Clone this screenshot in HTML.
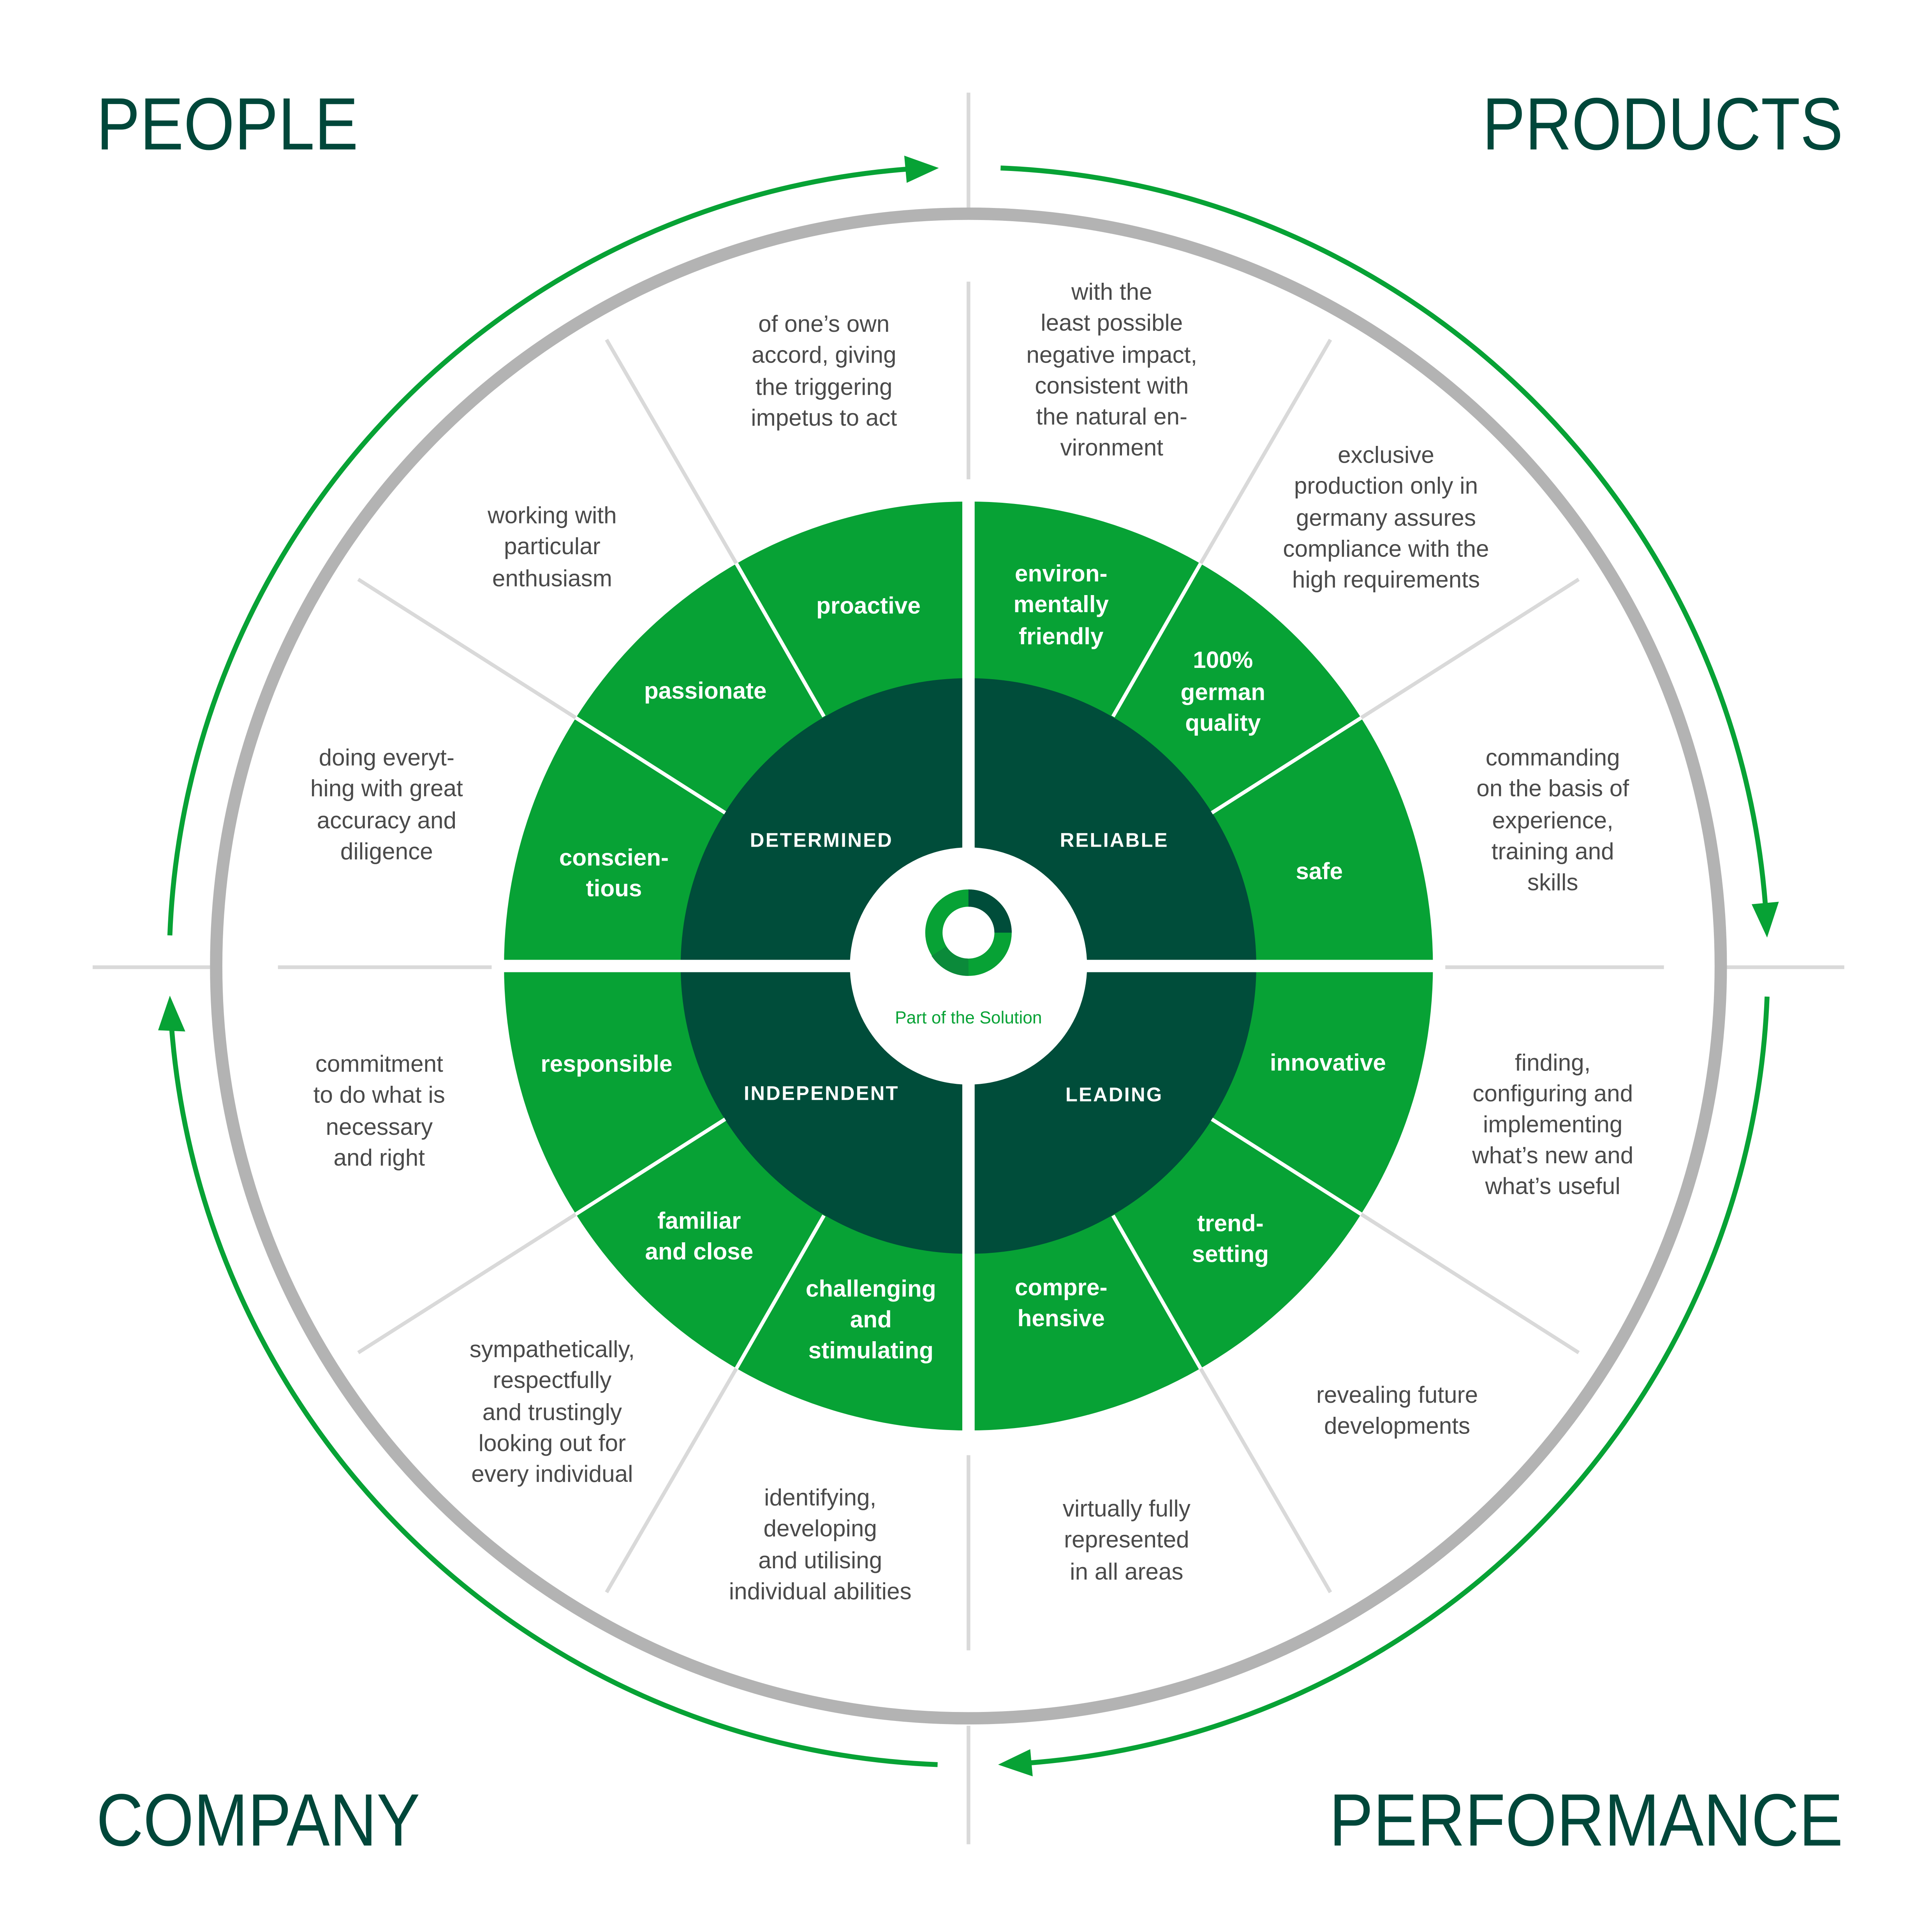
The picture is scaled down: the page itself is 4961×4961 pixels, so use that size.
<!DOCTYPE html>
<html><head><meta charset="utf-8"><style>
html,body{margin:0;padding:0;background:#fff;}
svg{display:block;}
.b{font-family:"Liberation Sans",sans-serif;font-size:19px;fill:#4a4a4a;text-anchor:middle;dominant-baseline:central;}
.w{font-family:"Liberation Sans",sans-serif;font-size:19px;fill:#fff;font-weight:bold;text-anchor:middle;dominant-baseline:central;}
.d{font-family:"Liberation Sans",sans-serif;font-size:16px;fill:#fff;font-weight:bold;text-anchor:middle;dominant-baseline:central;letter-spacing:1px;}
.t{font-family:"Liberation Sans",sans-serif;font-size:60px;fill:#00473a;}
</style></head><body>
<svg width="4961" height="4961" viewBox="0 0 1564 1564" xmlns="http://www.w3.org/2000/svg">
<rect width="1564" height="1564" fill="#fff"/>
<g stroke="#d9d9d9" stroke-width="3">
<line x1="784" y1="75" x2="784" y2="170"/><line x1="784" y1="228" x2="784" y2="388"/>
<line x1="784" y1="1178" x2="784" y2="1336"/><line x1="784" y1="1397" x2="784" y2="1493"/>
<line x1="75" y1="783" x2="170" y2="783"/><line x1="225" y1="783" x2="398" y2="783"/>
<line x1="1170" y1="783" x2="1347" y2="783"/><line x1="1397" y1="783" x2="1493" y2="783"/>
<line x1="596" y1="456" x2="491" y2="275"/><line x1="466" y1="581" x2="290" y2="469"/>
<line x1="972" y1="456" x2="1077" y2="275"/><line x1="1102" y1="581" x2="1278" y2="469"/>
<line x1="596" y1="1108" x2="491" y2="1289"/><line x1="466" y1="983" x2="290" y2="1095"/>
<line x1="972" y1="1108" x2="1077" y2="1289"/><line x1="1102" y1="983" x2="1278" y2="1095"/>
</g>
<circle cx="784" cy="782" r="609" fill="none" stroke="#b3b3b3" stroke-width="10"/>
<circle cx="784" cy="782" r="376" fill="#07a235"/>
<circle cx="784" cy="782" r="233" fill="#004d3a"/>
<g stroke="#fff" stroke-width="3">
<line x1="667" y1="580" x2="596" y2="456"/><line x1="587" y1="658" x2="466" y2="581"/>
<line x1="901" y1="580" x2="972" y2="456"/><line x1="981" y1="658" x2="1102" y2="581"/>
<line x1="667" y1="984" x2="596" y2="1108"/><line x1="587" y1="906" x2="466" y2="983"/>
<line x1="901" y1="984" x2="972" y2="1108"/><line x1="981" y1="906" x2="1102" y2="983"/>
</g>
<g stroke="#fff" stroke-width="10">
<line x1="784" y1="400" x2="784" y2="1165"/><line x1="400" y1="782" x2="1168" y2="782"/>
</g>
<circle cx="784" cy="782" r="96" fill="#fff"/>
<circle cx="784" cy="755" r="28" fill="none" stroke="#07a235" stroke-width="14"/>
<path d="M784 727 A28 28 0 0 1 812 755" fill="none" stroke="#004d3a" stroke-width="14"/>
<path d="M784 783 A28 28 0 0 1 760 770" fill="none" stroke="#0b8a3a" stroke-width="14"/>
<text x="784" y="824" font-family="Liberation Sans,sans-serif" font-size="14" fill="#07a235" text-anchor="middle" dominant-baseline="central">Part of the Solution</text>
<g fill="none" stroke="#07a235" stroke-width="4">
<path d="M137.5 757.2 A647 647 0 0 1 733.2 137"/>
<path d="M810 136 A647 647 0 0 1 1429 731.2"/>
<path d="M1430.5 806.8 A647 647 0 0 1 834.8 1427"/>
<path d="M759 1428.5 A647 647 0 0 1 139 832.8"/>
</g>
<g fill="#07a235">
<polygon points="760,136 732,126 734,148"/>
<polygon points="1430.5,759 1440,730 1418,732"/>
<polygon points="808,1428.5 836,1438 834,1416"/>
<polygon points="137.5,806 128,834 150,835"/>
</g>
<text class="t" x="78" y="121" textLength="212" lengthAdjust="spacingAndGlyphs">PEOPLE</text>
<text class="t" x="1200" y="121" textLength="292" lengthAdjust="spacingAndGlyphs">PRODUCTS</text>
<text class="t" x="78" y="1494" textLength="262" lengthAdjust="spacingAndGlyphs">COMPANY</text>
<text class="t" x="1076" y="1494" textLength="416" lengthAdjust="spacingAndGlyphs">PERFORMANCE</text>
<g class="b">
<text x="900" y="236">with the</text><text x="900" y="261">least possible</text><text x="900" y="287">negative impact,</text><text x="900" y="312">consistent with</text><text x="900" y="337">the natural en-</text><text x="900" y="362">vironment</text>
<text x="1122" y="368">exclusive</text><text x="1122" y="393">production only in</text><text x="1122" y="419">germany assures</text><text x="1122" y="444">compliance with the</text><text x="1122" y="469">high requirements</text>
<text x="1257" y="613">commanding</text><text x="1257" y="638">on the basis of</text><text x="1257" y="664">experience,</text><text x="1257" y="689">training and</text><text x="1257" y="714">skills</text>
<text x="667" y="262">of one’s own</text><text x="667" y="287">accord, giving</text><text x="667" y="313">the triggering</text><text x="667" y="338">impetus to act</text>
<text x="447" y="417">working with</text><text x="447" y="442">particular</text><text x="447" y="468">enthusiasm</text>
<text x="313" y="613">doing everyt-</text><text x="313" y="638">hing with great</text><text x="313" y="664">accuracy and</text><text x="313" y="689">diligence</text>
<text x="307" y="861">commitment</text><text x="307" y="886">to do what is</text><text x="307" y="912">necessary</text><text x="307" y="937">and right</text>
<text x="447" y="1092">sympathetically,</text><text x="447" y="1117">respectfully</text><text x="447" y="1143">and trustingly</text><text x="447" y="1168">looking out for</text><text x="447" y="1193">every individual</text>
<text x="664" y="1212">identifying,</text><text x="664" y="1237">developing</text><text x="664" y="1263">and utilising</text><text x="664" y="1288">individual abilities</text>
<text x="912" y="1221">virtually fully</text><text x="912" y="1246">represented</text><text x="912" y="1272">in all areas</text>
<text x="1131" y="1129">revealing future</text><text x="1131" y="1154">developments</text>
<text x="1257" y="860">finding,</text><text x="1257" y="885">configuring and</text><text x="1257" y="910">implementing</text><text x="1257" y="935">what’s new and</text><text x="1257" y="960">what’s useful</text>
</g>
<g class="w">
<text x="703" y="490">proactive</text>
<text x="571" y="559">passionate</text>
<text x="497" y="694">conscien-</text><text x="497" y="719">tious</text>
<text x="859" y="464">environ-</text><text x="859" y="489">mentally</text><text x="859" y="515">friendly</text>
<text x="990" y="534">100%</text><text x="990" y="560">german</text><text x="990" y="585">quality</text>
<text x="1068" y="705">safe</text>
<text x="1075" y="860">innovative</text>
<text x="996" y="990">trend-</text><text x="996" y="1015">setting</text>
<text x="859" y="1042">compre-</text><text x="859" y="1067">hensive</text>
<text x="705" y="1043">challenging</text><text x="705" y="1068">and</text><text x="705" y="1093">stimulating</text>
<text x="566" y="988">familiar</text><text x="566" y="1013">and close</text>
<text x="491" y="861">responsible</text>
</g>
<g class="d">
<text x="665" y="680">DETERMINED</text><text x="902" y="680">RELIABLE</text>
<text x="665" y="885">INDEPENDENT</text><text x="902" y="886">LEADING</text>
</g>
</svg>
</body></html>
